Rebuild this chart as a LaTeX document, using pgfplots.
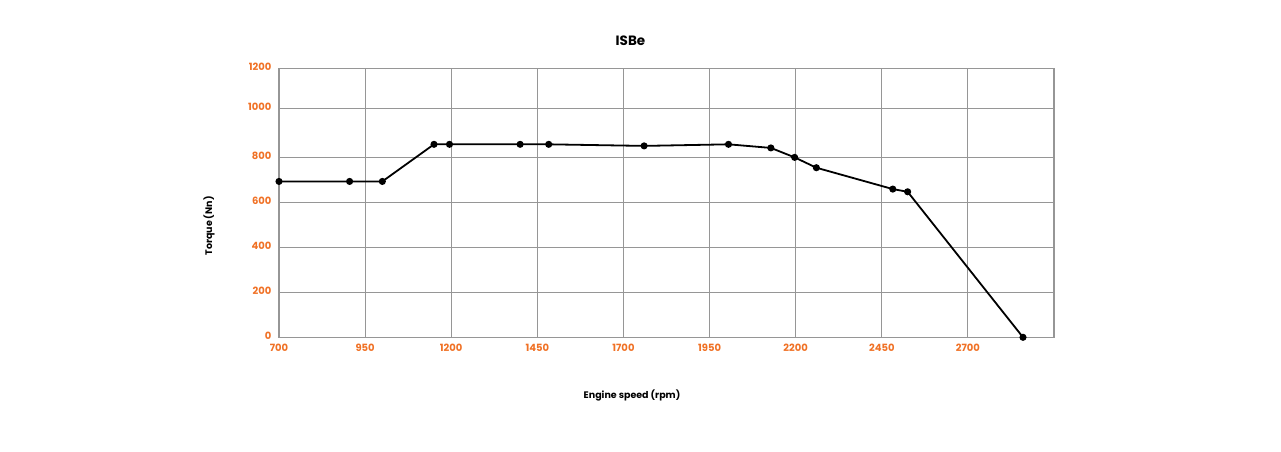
\documentclass[border=0pt]{standalone}
\usepackage{fontspec}
\setmainfont{Poppins}
\usepackage{pgfplots}
\pgfplotsset{compat=1.18}
\definecolor{tickorange}{HTML}{F07125}
\definecolor{gridgray}{RGB}{150,150,150}
\begin{document}
\begin{tikzpicture}[x=1pt,y=1pt]
\path[use as bounding box] (0,0) rectangle (1281,451);
\begin{axis}[
    at={(279pt,113.7pt)}, anchor=south west,
    width=775pt, height=269pt, scale only axis,
    xmin=700, xmax=2950,
    ymin=0, ymax=1196,
    xtick={700,950,1200,1450,1700,1950,2200,2450,2700},
    ytick={0,200,400,600,798,1018,1196},
    yticklabels={0,200,400,600,800,1000,1200},
    grid=major,
    major grid style={gridgray, line width=1.1pt},
    axis line style={gridgray, line width=1.1pt},
    major tick length=0pt,
    /pgf/number format/assume math mode=true,
    /pgf/number format/1000 sep={},
    ticklabel style={font=\fontsize{10}{11}\selectfont\bfseries, text=tickorange},
    xticklabel style={yshift=-3pt},
    yticklabel style={xshift=-4pt, yshift=2pt},
    title={ISBe},
    title style={font=\fontsize{13.5}{15}\selectfont\bfseries,
        at={(axis description cs:0.4535,1.08)}, anchor=center},
    xlabel={Engine speed (rpm)},
    xlabel style={font=\fontsize{9.5}{11}\selectfont\bfseries,
        at={(axis description cs:0.4555,-0.2145)}, anchor=center},
    ylabel={Torque (Nn)},
    ylabel style={font=\fontsize{9.5}{11}\selectfont\bfseries,
        at={(axis description cs:-0.0903,0.414)}, anchor=center},
    clip=false,
]
\addplot[black, line width=1.8pt, mark=*, mark size=2.6pt] coordinates {
(700,693) (905,693) (1000,693) (1150,858) (1195,858) (1400,858) (1483,858)
(1760,851) (2005,858) (2128,842) (2197,800) (2260,754) (2482,659) (2525,647)
(2860,0)};
\end{axis}
\end{tikzpicture}
\end{document}
